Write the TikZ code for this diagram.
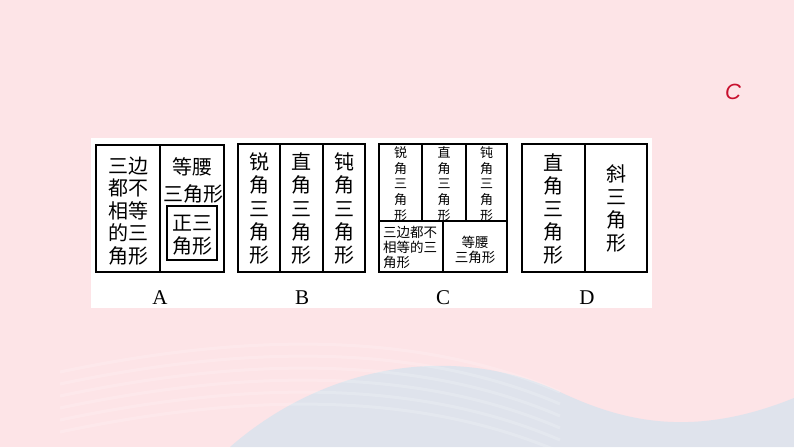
\documentclass[tikz,border=0pt]{standalone}
\usepackage{fontspec}
\setmainfont{Liberation Serif}
\newfontfamily\cjk{Noto Sans CJK SC}
\newfontfamily\lsans{Liberation Sans}
\usetikzlibrary{calc}
\definecolor{bgpink}{HTML}{FDE4E7}
\definecolor{wave}{HTML}{D5E3EE}
\definecolor{redc}{HTML}{C8102E}
\tikzset{
  box/.style={draw=black,line width=1.4pt},
  big/.style={inner sep=0pt,align=center,font=\cjk\fontsize{20}{22.5}\selectfont},
  bigcol/.style={inner sep=0pt,align=center,font=\cjk\fontsize{20}{23.2}\selectfont},
  small/.style={inner sep=0pt,align=center,font=\cjk\fontsize{13}{15.8}\selectfont},
  smallb/.style={inner sep=0pt,font=\cjk\fontsize{13.5}{15}\selectfont},
  lab/.style={inner sep=0pt,font=\fontsize{21}{21}\selectfont}
}
\begin{document}
\begin{tikzpicture}[x=1pt,y=-1pt]
\useasboundingbox (0,0) rectangle (794,447);
\fill[bgpink] (0,0) rectangle (794,447);
% wave
\fill[wave,opacity=0.75] (230,447) .. controls (330,360) and (460,345) .. (560,392)
  .. controls (620,420) and (690,440) .. (794,398) -- (794,447) -- cycle;
\foreach \d in {0,12,24,36,48,60}{
  \draw[white,opacity=0.18,line width=3pt] (60,{372+\d}) .. controls (250,{332+\d}) and (420,{332+\d}) .. (560,{392+\d});
}
% panel
\fill[white] (91,138) rectangle (652,308);
% Box A
\draw[box] (96,145) rectangle (224,272);
\draw[box] (160,145) -- (160,272);
\draw[box] (167,206) rectangle (217,260);
\node[big] (a1) at (128,211) {三边\\都不\\相等\\的三\\角形};
\node[big] (a2) at (192,167) {等腰};
\node[big] (a3) at (193,194) {三角形};
\node[big] (a4) at (192,235) {正三\\角形};
\node[lab] (la) at (160,298) {A};
% Box B
\draw[box] (238,144) rectangle (365,272);
\draw[box] (280,144) -- (280,272);
\draw[box] (323,144) -- (323,272);
\node[bigcol] (b1) at (259,208.5) {锐\\角\\三\\角\\形};
\node[bigcol] (b2) at (301.5,208.5) {直\\角\\三\\角\\形};
\node[bigcol] (b3) at (344,208.5) {钝\\角\\三\\角\\形};
\node[lab] (lb) at (302,298) {B};
% Box C
\draw[box] (379,144) rectangle (507,272);
\draw[box] (379,221) -- (507,221);
\draw[box] (422,144) -- (422,221);
\draw[box] (466,144) -- (466,221);
\draw[box] (443,221) -- (443,272);
\node[small] (c1) at (400.5,184) {锐\\角\\三\\角\\形};
\node[small] (c2) at (444,184) {直\\角\\三\\角\\形};
\node[small] (c3) at (486.5,184) {钝\\角\\三\\角\\形};
\node[smallb,anchor=west,align=left] (c4) at (383,247) {三边都不\\相等的三\\角形};
\node[smallb,align=center] (c5) at (475,250) {等腰\\三角形};
\node[lab] (lc) at (443,298) {C};
% Box D
\draw[box] (522,144) rectangle (647,272);
\draw[box] (585,144) -- (585,272);
\node[bigcol] (d1) at (553.5,209) {直\\角\\三\\角\\形};
\node[bigcol] (d2) at (616,208.5) {斜\\三\\角\\形};
\node[lab] (ld) at (587,298) {D};
% answer
\node[inner sep=0pt,text=redc,font=\lsans\itshape\fontsize{22}{22}\selectfont] (ans) at (733,92) {C};
\end{tikzpicture}
\end{document}
